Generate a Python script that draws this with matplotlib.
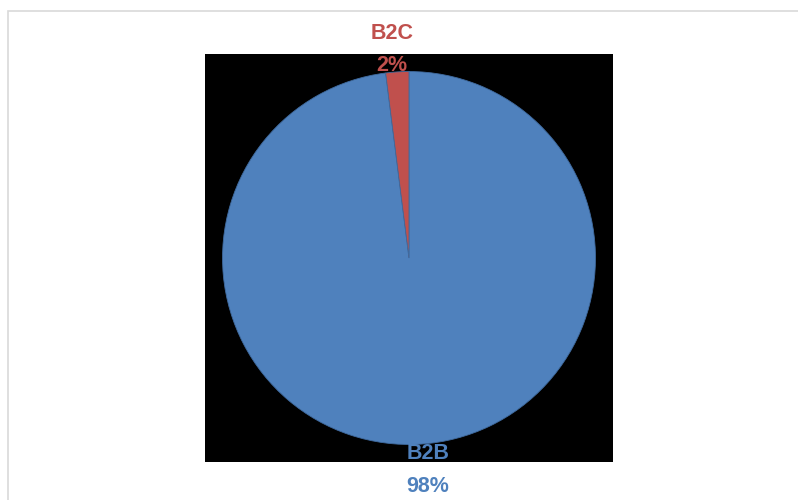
import matplotlib.pyplot as plt
from matplotlib.patches import Rectangle

categories = ['B2B', 'B2C']
shares = [98, 2]
colors = ['#4F81BD', '#C0504D']

fig = plt.figure(figsize=(7.98, 5.0), dpi=100)
fig.patch.set_facecolor('white')

# outer chart border (runs off the right and bottom edge)
fig.patches.append(Rectangle((8 / 798, -0.1), 1.2, 1 - 11 / 500 + 0.1,
                             transform=fig.transFigure, fill=False,
                             edgecolor='#D9D9D9', linewidth=1.2))

ax = fig.add_axes([205 / 798, 1 - 462 / 500, 408 / 798, 408 / 500])
ax.pie(shares, colors=colors, startangle=90, counterclock=False,
       wedgeprops=dict(edgecolor='#3F6A9E', linewidth=0.6))
# pie() switches the frame off, which also hides the black background
ax.set_frame_on(True)
ax.set_facecolor('black')
lim = 1.094
ax.set_xlim(-lim, lim)
ax.set_ylim(-lim, lim)
ax.set_aspect('equal')
ax.set_xticks([])
ax.set_yticks([])
for s in ax.spines.values():
    s.set_visible(False)

font = dict(family=['Liberation Sans', 'DejaVu Sans'], fontsize=15.5,
            fontweight='bold', ha='center', va='center', clip_on=False)
label_pos = {'B2B': [(0.102, -1.051), (0.102, -1.228)],
             'B2C': [(-0.091, 1.206), (-0.091, 1.035)]}
for cat, val, col in zip(categories, shares, colors):
    (x1, y1), (x2, y2) = label_pos[cat]
    ax.text(x1, y1, cat, color=col, **font)
    ax.text(x2, y2, f'{val}%', color=col, **font)

fig.savefig('out.png', dpi=100)
